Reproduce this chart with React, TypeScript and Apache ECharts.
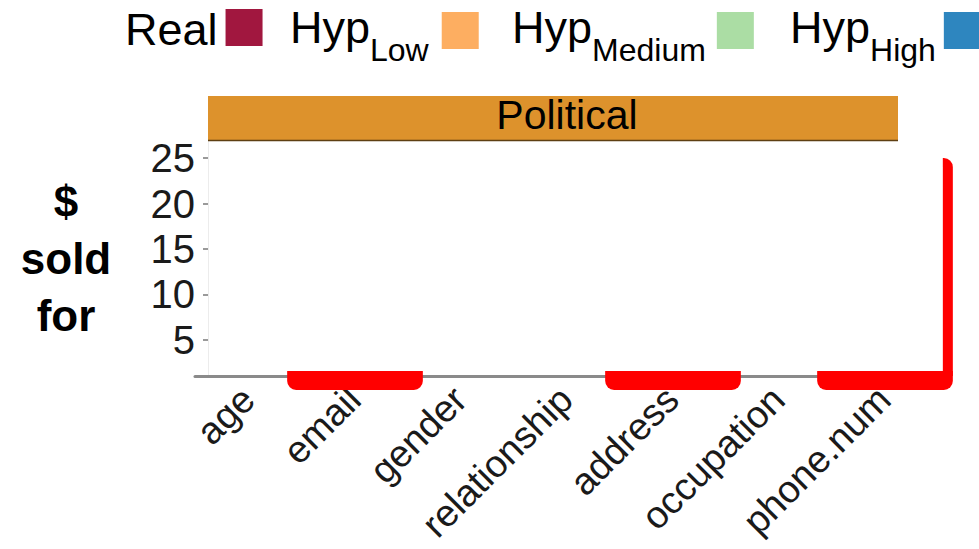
import React, { useEffect, useRef } from "react";
import * as echarts from "echarts";

const categories = ["age", "email", "gender", "relationship", "address", "occupation", "phone.num"];
const panelTitle = "Political";
const yTitle = "$\nsold\nfor";
const yTicks = [5, 10, 15, 20, 25];
const yMin = 1.04;
const yMax = 26.87;

const seriesNames = ["Real", "HypLow", "HypMedium", "HypHigh"];
const seriesMain = ["Real", "Hyp", "Hyp", "Hyp"];
const seriesSub = ["", "Low", "Medium", "High"];
const seriesColors = ["#A1173F", "#FDAE61", "#ABDDA4", "#2E86BF"];

// No visible bars in the panel for any series
const realValues = [null, null, null, null, null, null, null];
const hypLowValues = [null, null, null, null, null, null, null];
const hypMediumValues = [null, null, null, null, null, null, null];
const hypHighValues = [null, null, null, null, null, null, null];

// red highlight marks under the axis (top value: 0 = none)
const highlightCats = ["email", "address", "phone.num"];
const highlightTops = [0, 0, 25];

const legendLefts = [125, 290, 512, 790];
const legendTops = [6.5, -4.5, -4.5, -4.5];
const legendPads = [3, 8, 6, 3];
const FONT = "Liberation Sans";
const SUB_PAD = 38;

export default function App() {
  const ref = useRef<HTMLDivElement>(null);
  useEffect(() => {
    if (!ref.current) return;
    const chart = echarts.init(ref.current, null, { renderer: "svg" });
    const valuesList = [realValues, hypLowValues, hypMediumValues, hypHighValues];
    const option: any = {
      animation: false,
      backgroundColor: "#ffffff",
      textStyle: { fontFamily: FONT },
      legend: seriesNames.map((n, i) => ({
        data: [n],
        left: legendLefts[i],
        top: legendTops[i],
        padding: 0,
        align: "right",
        icon: "rect",
        itemWidth: 37,
        itemHeight: 37,
        selectedMode: false,
        formatter: () =>
          seriesSub[i] ? `{a|${seriesMain[i]}}{b|${seriesSub[i]}}` : `{r|${seriesMain[i]}}`,
        textStyle: {
          fontFamily: FONT,
          color: "#000",
          rich: {
            r: {
              fontSize: 45,
              padding: [3, legendPads[i], 0, 0],
              fontFamily: FONT,
              color: "#000",
            },
            a: { fontSize: 45, padding: [0, 0, 7, 0], fontFamily: FONT, color: "#000" },
            b: {
              fontSize: 32,
              lineHeight: 30,
              padding: [SUB_PAD, legendPads[i], 0, 0],
              fontFamily: FONT,
              color: "#000",
            },
          },
        },
      })),
      grid: {
        left: 195,
        right: 42,
        top: 141,
        bottom: 173,
        containLabel: false,
        outerBoundsMode: "none",
      },
      xAxis: {
        type: "category",
        data: categories,
        boundaryGap: true,
        axisLine: { lineStyle: { color: "#8a8a8a", width: 3 } },
        axisTick: { alignWithLabel: true, length: 10, lineStyle: { color: "#7a7a7a", width: 2.5 } },
        axisLabel: {
          rotate: 45,
          fontSize: 38,
          color: "#1a1a1a",
          fontFamily: FONT,
          margin: 17,
          interval: 0,
        },
        splitLine: { show: false },
      },
      yAxis: {
        type: "value",
        min: yMin,
        max: yMax,
        offset: -13,
        name: yTitle,
        nameLocation: "middle",
        nameRotate: 0,
        nameGap: 142,
        nameTextStyle: {
          fontSize: 44,
          fontWeight: "bold",
          lineHeight: 57,
          color: "#000",
          align: "center",
          fontFamily: FONT,
          padding: [64, 0, 0, 0],
        },
        axisLine: { show: true, lineStyle: { color: "#ececec", width: 1 } },
        axisTick: {
          show: true,
          length: 5,
          customValues: yTicks,
          lineStyle: { color: "#9a9a9a", width: 2 },
        },
        axisLabel: {
          customValues: yTicks,
          fontSize: 40,
          color: "#1a1a1a",
          fontFamily: FONT,
          margin: 13,
        },
        splitLine: { show: false },
      },
      graphic: [
        {
          type: "rect",
          shape: { x: 208, y: 96, width: 690, height: 45 },
          style: { fill: "#DD922C" },
          z: 5,
        },
        {
          type: "line",
          shape: { x1: 208, y1: 140.5, x2: 898, y2: 140.5 },
          style: { stroke: "#5e3f12", lineWidth: 1.5 },
          z: 6,
        },
        {
          type: "text",
          x: 567,
          y: 115,
          style: {
            text: panelTitle,
            fontSize: 41,
            fontFamily: FONT,
            fill: "#000",
            align: "center",
            verticalAlign: "middle",
          },
          z: 7,
        },
      ],
      series: [
        ...seriesNames.map((n, i) => ({
          name: n,
          type: "bar",
          data: valuesList[i],
          itemStyle: { color: seriesColors[i] },
        })),
        {
          name: "highlight",
          type: "custom",
          clip: false,
          z: 10,
          data: highlightCats.map((c, i) => [c, highlightTops[i]]),
          renderItem: (params: any, api: any) => {
            const idx = api.value(0);
            const top = api.value(1);
            const base = api.coord([idx, yMin]);
            const bw = api.size([1, 0])[0];
            const w = bw * 1.28;
            const x0 = base[0] - w / 2 + 1;
            const children: any[] = [
              {
                type: "rect",
                shape: { x: x0, y: base[1] - 5, width: w, height: 19, r: [0, 0, 9, 9] },
                style: { fill: "#FF0000" },
              },
            ];
            if (top > yMin) {
              const tp = api.coord([idx, top]);
              children.push({
                type: "rect",
                shape: { x: x0 + w - 10, y: tp[1], width: 10, height: base[1] - tp[1], r: [0, 9, 0, 0] },
                style: { fill: "#FF0000" },
              });
            }
            return { type: "group", children };
          },
        },
      ],
    };
    chart.setOption(option);
    return () => chart.dispose();
  }, []);
  return <div ref={ref} style={{ position: "fixed", left: 0, top: 0, width: 979, height: 549 }} />;
}
